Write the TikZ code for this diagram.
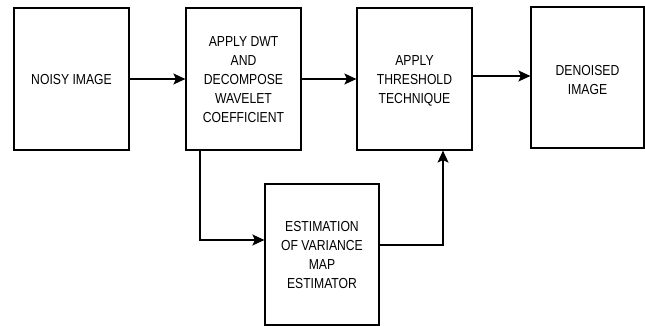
\documentclass[tikz,border=0pt]{standalone}
\usepackage{fontspec}
\usepackage{graphicx}
\setmainfont{Liberation Sans}
\usetikzlibrary{arrows.meta,calc}
% narrow, centred block label
\newcommand\blocklabel[1]{\scalebox{0.84}[1]{\begin{tabular}{@{}c@{}}#1\end{tabular}}}
\begin{document}
\begin{tikzpicture}[x=1pt,y=-1pt,
  block/.style={draw,line width=1.2pt,rectangle,minimum width=115pt,minimum height=142pt,
    inner sep=0pt},
  lbl/.style={inner sep=0pt,font=\fontsize{14.5}{19}\selectfont,yshift=-2pt},
  flow/.style={line width=1.2pt,-{Stealth[length=12pt,width=11pt,inset=2.5pt]}}]
\useasboundingbox (0,0) rectangle (645,326);
\node[block,label={[lbl]center:\blocklabel{NOISY IMAGE}}] (noisy) at (71.5,79) {};
\node[block,label={[lbl]center:\blocklabel{APPLY DWT\\AND\\DECOMPOSE\\WAVELET\\COEFFICIENT}}] (dwt) at (243.5,79) {};
\node[block,label={[lbl]center:\blocklabel{APPLY\\THRESHOLD\\TECHNIQUE}}] (thr) at (414.5,79) {};
\node[block,minimum width=113pt,minimum height=141pt,
  label={[lbl,yshift=-1.5pt]center:\blocklabel{DENOISED\\IMAGE}}] (den) at (587.5,77.5) {};
\node[block,minimum width=114pt,minimum height=141pt,
  label={[lbl]center:\blocklabel{ESTIMATION\\OF VARIANCE\\MAP\\ESTIMATOR}}] (est) at (322,254.5) {};
% connectors
\coordinate (thrOut) at (thr.east |- 0,76);
\coordinate (denIn) at (den.west |- 0,76);
\coordinate (dwtDown) at (dwt.south -| 200,0);
\coordinate (bend1) at (200,240);
\coordinate (estIn) at (est.west |- 0,240);
\coordinate (estOut) at (est.east |- 0,245);
\coordinate (bend2) at (443,245);
\coordinate (thrIn) at (thr.south -| 443,0);
\draw[flow] (noisy) -- (dwt);
\draw[flow] (dwt) -- (thr);
\draw[flow] (thrOut) -- (denIn);
\draw[flow] (dwtDown) -- (bend1) -- (estIn);
\draw[flow] (estOut) -- (bend2) -- (thrIn);
\end{tikzpicture}
\end{document}
